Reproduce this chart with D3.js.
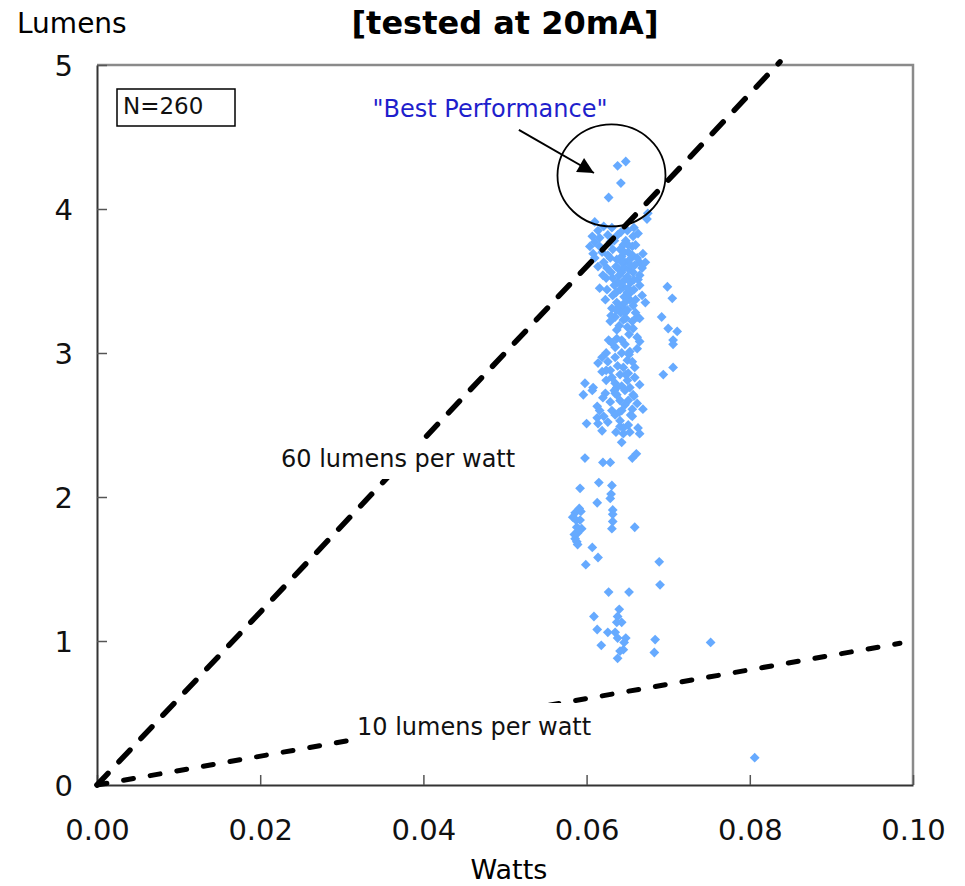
<!DOCTYPE html>
<html>
<head>
<meta charset="utf-8">
<script src="https://cdn.jsdelivr.net/npm/d3@7"></script>
<style>
  body { margin: 0; background: #fff; }
  svg { display: block; }
  text { font-family: "DejaVu Sans", Verdana, sans-serif; }
</style>
</head>
<body>
<script>
// Axis ticks
const xTicks = [0, 0.02, 0.04, 0.06, 0.08, 0.10];
const yTicks = [0, 1, 2, 3, 4, 5];

// Reference efficacy lines (lumens per watt) and where each dashed line stops (watts)
const efficacy = [60, 10];
const efficacyLabels = ["60 lumens per watt", "10 lumens per watt"];
const efficacyEndWatts = [0.0837, 0.0984];

// Measured LEDs at 20 mA: power draw (W) and light output (lm)
const watts = [
  0.0638,0.0648,0.0642,0.0627,0.0675,0.0674,0.0610,0.0614,0.0650,0.0658,
  0.0626,0.0638,0.0657,0.0610,0.0629,0.0645,0.0656,0.0608,0.0619,0.0669,
  0.0610,0.0629,0.0643,0.0647,0.0665,0.0672,0.0625,0.0638,0.0668,0.0643,
  0.0650,0.0632,0.0663,0.0638,0.0645,0.0616,0.0625,0.0665,0.0699,0.0632,
  0.0650,0.0668,0.0705,0.0637,0.0672,0.0631,0.0643,0.0662,0.0635,0.0692,
  0.0647,0.0629,0.0645,0.0665,0.0700,0.0711,0.0637,0.0650,0.0657,0.0637,
  0.0662,0.0706,0.0665,0.0662,0.0706,0.0624,0.0643,0.0619,0.0614,0.0626,
  0.0650,0.0645,0.0659,0.0619,0.0629,0.0641,0.0651,0.0631,0.0659,0.0706,
  0.0694,0.0598,0.0650,0.0665,0.0635,0.0608,0.0637,0.0607,0.0647,0.0596,
  0.0623,0.0635,0.0657,0.0620,0.0641,0.0651,0.0662,0.0613,0.0616,0.0631,
  0.0643,0.0656,0.0669,0.0656,0.0613,0.0614,0.0600,0.0626,0.0641,0.0651,
  0.0641,0.0663,0.0619,0.0665,0.0645,0.0643,0.0598,0.0620,0.0629,0.0656,
  0.0661,0.0592,0.0615,0.0631,0.0630,0.0629,0.0613,0.0591,0.0586,0.0632,
  0.0632,0.0583,0.0592,0.0632,0.0588,0.0594,0.0659,0.0631,0.0589,0.0586,
  0.0588,0.0607,0.0614,0.0599,0.0689,0.0690,0.0627,0.0652,0.0640,0.0609,
  0.0638,0.0637,0.0643,0.0613,0.0626,0.0635,0.0638,0.0648,0.0646,0.0684,
  0.0618,0.0641,0.0645,0.0683,0.0638,0.0752,0.0806,0.0641,0.0651,0.0656,
  0.0637,0.0653,0.0659,0.0646,0.0652,0.0657,0.0640,0.0647,0.0654,0.0641,
  0.0651,0.0658,0.0646,0.0653,0.0640,0.0650,0.0657,0.0642,0.0634,0.0630,
  0.0660,0.0648,0.0632,0.0621,0.0616,0.0624,0.0660,0.0631,0.0647,0.0653,
  0.0635,0.0656,0.0638,0.0624,0.0643,0.0653,0.0629,0.0647,0.0635,0.0653,
  0.0587,0.0591,0.0585,0.0593,0.0589,0.0607,0.0616,0.0621,0.0604,0.0614,
  0.0643,0.0636,0.0648,0.0656,0.0640,0.0652,0.0643,0.0660,0.0630,0.0623,
  0.0626,0.0634,0.0662,0.0665,0.0620,0.0651,0.0642,0.0631,0.0663,0.0635,
  0.0627,0.0648,0.0634,0.0654,0.0636,0.0621,0.0658,0.0640,0.0624,0.0652,
  0.0637,0.0645,0.0646,0.0636,0.0658,0.0642,0.0652,0.0636,0.0654,0.0647
];
const lumens = [
  4.30,4.33,4.18,4.08,3.97,3.93,3.91,3.85,3.85,3.87,
  3.82,3.82,3.81,3.77,3.77,3.75,3.74,3.69,3.70,3.69,
  3.66,3.66,3.67,3.63,3.63,3.63,3.59,3.59,3.59,3.56,
  3.53,3.52,3.51,3.49,3.46,3.45,3.44,3.47,3.46,3.40,
  3.42,3.40,3.38,3.35,3.35,3.31,3.32,3.25,3.25,3.25,
  3.28,3.22,3.23,3.24,3.17,3.15,3.16,3.18,3.17,3.10,
  3.11,3.09,3.08,3.03,3.06,3.00,3.00,2.97,2.93,2.94,
  2.95,2.90,2.90,2.87,2.88,2.85,2.86,2.83,2.83,2.90,
  2.85,2.79,2.81,2.78,2.79,2.76,2.76,2.74,2.74,2.71,
  2.72,2.72,2.71,2.69,2.67,2.67,2.65,2.63,2.60,2.60,
  2.60,2.61,2.61,2.56,2.55,2.51,2.51,2.52,2.53,2.50,
  2.49,2.48,2.46,2.44,2.44,2.38,2.27,2.24,2.24,2.27,
  2.30,2.06,2.10,2.08,2.02,1.99,1.96,1.92,1.89,1.91,
  1.88,1.86,1.84,1.83,1.79,1.78,1.79,1.78,1.75,1.71,
  1.69,1.65,1.58,1.53,1.55,1.39,1.34,1.34,1.22,1.17,
  1.17,1.13,1.13,1.08,1.06,1.06,1.02,1.02,0.99,1.01,
  0.97,0.93,0.94,0.92,0.88,0.99,0.19,3.72,3.70,3.68,
  3.65,3.65,3.61,3.59,3.58,3.56,3.54,3.51,3.49,3.44,
  3.45,3.44,3.39,3.37,3.33,3.30,3.33,3.28,3.47,3.56,
  3.75,3.78,3.72,3.63,3.74,3.52,3.37,3.07,3.06,3.01,
  2.97,2.94,2.91,2.81,2.77,2.76,2.66,2.64,2.57,2.45,
  1.84,1.77,1.74,1.90,1.67,3.81,3.80,3.88,3.74,3.60,
  3.63,3.42,3.24,3.22,3.19,3.13,3.09,3.28,3.26,3.37,
  3.68,3.78,3.66,3.54,3.54,3.75,3.84,3.87,3.83,3.04,
  3.09,2.85,2.74,2.57,2.45,2.56,2.70,2.59,2.88,2.99,
  2.71,2.48,3.70,3.60,3.51,3.48,3.41,3.30,3.61,3.35
];

const W = 965, H = 886;
const plot = { left: 97, right: 913, top: 65, bottom: 785 };

const svg = d3.select("body").append("svg")
  .attr("width", W).attr("height", H);

const x = d3.scaleLinear().domain([0, 0.10]).range([plot.left, plot.right]);
const y = d3.scaleLinear().domain([0, 5]).range([plot.bottom, plot.top]);

// Title and axis titles
svg.append("text")
  .attr("x", 505).attr("y", 34)
  .attr("text-anchor", "middle")
  .attr("font-size", 32).attr("font-weight", "bold")
  .text("[tested at 20mA]");

svg.append("text")
  .attr("x", 17).attr("y", 33)
  .attr("font-size", 28)
  .text("Lumens");

svg.append("text")
  .attr("x", 509).attr("y", 879)
  .attr("text-anchor", "middle")
  .attr("font-size", 27)
  .text("Watts");

// Top and right frame
svg.append("path")
  .attr("d", `M${plot.left},${plot.top}H${plot.right}V${plot.bottom}`)
  .attr("fill", "none").attr("stroke", "#8a8a8a").attr("stroke-width", 2.5);

// Axes with inward ticks
const xAxis = d3.axisBottom(x).tickValues(xTicks)
  .tickFormat(d3.format(".2f")).tickSizeInner(-10).tickSizeOuter(0);
const gx = svg.append("g").attr("transform", `translate(0,${plot.bottom})`).call(xAxis);
gx.select(".domain").attr("stroke", "#333").attr("stroke-width", 2);
gx.selectAll(".tick line").attr("stroke", "#555").attr("stroke-width", 1.5);
gx.selectAll(".tick text")
  .attr("y", 55).attr("dy", null)
  .attr("font-size", 29).attr("fill", "#111")
  .style("font-family", '"DejaVu Sans", Verdana, sans-serif');

const yAxis = d3.axisLeft(y).tickValues(yTicks)
  .tickFormat(d3.format("d")).tickSizeInner(-10).tickSizeOuter(0);
const gy = svg.append("g").attr("transform", `translate(${plot.left},0)`).call(yAxis);
gy.select(".domain").attr("stroke", "#333").attr("stroke-width", 2);
gy.selectAll(".tick line").attr("stroke", "#555").attr("stroke-width", 1.5);
gy.selectAll(".tick text")
  .attr("x", -24).attr("dy", "0.36em")
  .attr("font-size", 29).attr("fill", "#111")
  .style("font-family", '"DejaVu Sans", Verdana, sans-serif');

// Scatter of measured LEDs
const pts = watts.map((w, i) => ({ w, l: lumens[i] }));
const diamond = d3.symbol().type(d3.symbolSquare).size(48);
svg.append("g").selectAll("path")
  .data(pts).join("path")
  .attr("d", diamond)
  .attr("transform", d => `translate(${x(d.w)},${y(d.l)}) rotate(45)`)
  .attr("fill", "#66aaff");

// Dashed efficacy lines through the origin
const dashes = ["16,16", "10,17"];
const widths = [5.5, 5];
efficacy.forEach((rate, i) => {
  const endW = efficacyEndWatts[i];
  svg.append("line")
    .attr("x1", x(0)).attr("y1", y(0))
    .attr("x2", x(endW)).attr("y2", y(rate * endW))
    .attr("stroke", "#000").attr("stroke-width", widths[i])
    .attr("stroke-dasharray", dashes[i]).attr("stroke-linecap", "round");
});

// Line labels on white boxes
function boxedLabel(px, py, str, opts = {}) {
  const g = svg.append("g");
  const rect = g.append("rect").attr("fill", "#fff");
  const t = g.append("text")
    .attr("x", px).attr("y", py)
    .attr("font-size", opts.size || 24)
    .attr("fill", opts.color || "#111")
    .attr("text-anchor", opts.anchor || "start")
    .text(str);
  const b = t.node().getBBox();
  const pad = opts.pad || [6, 8];
  rect.attr("x", b.x - pad[1]).attr("y", b.y - pad[0])
    .attr("width", b.width + 2 * pad[1]).attr("height", b.height + 2 * pad[0]);
  return g;
}

boxedLabel(281, 467, efficacyLabels[0], { pad: [6, 8] });
boxedLabel(357, 735, efficacyLabels[1], { pad: [10, 8] });

// Sample size box
svg.append("rect")
  .attr("x", 117).attr("y", 89).attr("width", 118).attr("height", 37)
  .attr("fill", "#fff").attr("stroke", "#000").attr("stroke-width", 1.5);
svg.append("text")
  .attr("x", 123).attr("y", 114)
  .attr("font-size", 23).attr("fill", "#111")
  .text("N=260");

// "Best Performance" callout
svg.append("text")
  .attr("x", 490).attr("y", 117)
  .attr("text-anchor", "middle")
  .attr("font-size", 24).attr("fill", "#1f1fcc")
  .text("\"Best Performance\"");

const circW = 0.06305, circL = 4.233;
svg.append("ellipse")
  .attr("cx", x(circW)).attr("cy", y(circL))
  .attr("rx", 54).attr("ry", 51)
  .attr("fill", "none").attr("stroke", "#000").attr("stroke-width", 1.8);

const defs = svg.append("defs");
defs.append("marker")
  .attr("id", "head").attr("viewBox", "0 0 10 10")
  .attr("refX", 10).attr("refY", 5)
  .attr("markerUnits", "userSpaceOnUse")
  .attr("orient", "auto")
  .attr("markerWidth", 20).attr("markerHeight", 16)
  .append("path").attr("d", "M0,0L10,5L0,10Z").attr("fill", "#000");

svg.append("line")
  .attr("x1", x(0.0517)).attr("y1", y(4.549))
  .attr("x2", x(0.0609)).attr("y2", y(4.25))
  .attr("stroke", "#000").attr("stroke-width", 2)
  .attr("marker-end", "url(#head)");
</script>
</body>
</html>
